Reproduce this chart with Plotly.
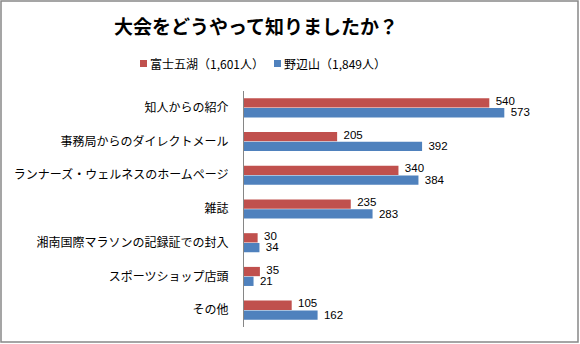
import plotly.graph_objects as go

categories = ["知人からの紹介", "事務局からのダイレクトメール", "ランナーズ・ウェルネスのホームページ",
              "雑誌", "湘南国際マラソンの記録証での封入", "スポーツショップ店頭", "その他"]
fuji = [540, 205, 340, 235, 30, 35, 105]
nobe = [573, 392, 384, 283, 34, 21, 162]
series_names = ["富士五湖（1,601人）", "野辺山（1,849人）"]
colors = ["#C0504D", "#4F81BD"]

W, H = 580, 344
ml, mr, mt, mb = 244, 18, 91, 17
pw, ph = W - ml - mr, H - mt - mb
font = "Noto Sans CJK JP, sans-serif"
numfont = "Liberation Sans, Arial, sans-serif"


def px_x(p):
    return (p - ml) / pw


def px_y(p):
    return (H - mb - p) / ph


fig = go.Figure()
for name, vals, c in zip(series_names, [fuji, nobe], colors):
    fig.add_trace(go.Bar(
        y=categories, x=vals, name=name, orientation="h",
        marker=dict(color=c, line=dict(width=0)),
        cliponaxis=False, showlegend=False, hoverinfo="x+name",
    ))

# data labels: red above, blue below the category centre
for vals, pos in zip([fuji, nobe], ["top right", "bottom right"]):
    fig.add_trace(go.Scatter(
        y=categories, x=vals, mode="text",
        text=["\u00a0\u00a0" + str(v) for v in vals],
        textposition=pos, textfont=dict(size=11.5, color="#000000", family=numfont),
        cliponaxis=False, showlegend=False, hoverinfo="skip",
    ))

# manual legend (square marker + text)
legend_x = [140, 274]
shapes = []
annotations = []
for lx, name, c in zip(legend_x, series_names, colors):
    shapes.append(dict(type="rect", xref="paper", yref="paper",
                       x0=px_x(lx), x1=px_x(lx + 7), y0=px_y(67), y1=px_y(60),
                       line=dict(width=0), fillcolor=c))
    annotations.append(dict(text=name, xref="paper", yref="paper",
                            x=px_x(lx + 8), y=px_y(63.5), xanchor="left", yanchor="middle",
                            showarrow=False, font=dict(size=12, family=font, color="#000000")))

shapes.append(dict(type="rect", xref="paper", yref="paper",
                   x0=px_x(1), x1=px_x(W - 2), y0=px_y(H - 2), y1=px_y(1),
                   line=dict(color="#888888", width=1.5), fillcolor="rgba(0,0,0,0)", layer="below"))

fig.update_layout(
    width=W, height=H,
    margin=dict(l=ml, r=mr, t=mt, b=mb),
    paper_bgcolor="white", plot_bgcolor="white",
    barmode="group", bargap=0.42, bargroupgap=0.05,
    font=dict(family=font, size=12, color="#000000"),
    title=dict(text="<b>大会をどうやって知りましたか？</b>", x=256 / W, xref="container",
               xanchor="center",
               y=1 - 27 / H, yref="container", yanchor="middle",
               font=dict(size=19, family=font, color="#000000")),
    showlegend=False,
    xaxis=dict(range=[0, 700], showgrid=False, showticklabels=False, zeroline=False,
               showline=False, ticks=""),
    yaxis=dict(autorange="reversed", showline=True, linecolor="#868686", linewidth=1,
               showgrid=False, ticks="", ticklabelstandoff=12,
               tickfont=dict(size=12, family=font)),
    shapes=shapes,
    annotations=annotations,
)

fig.write_html("out.html")
